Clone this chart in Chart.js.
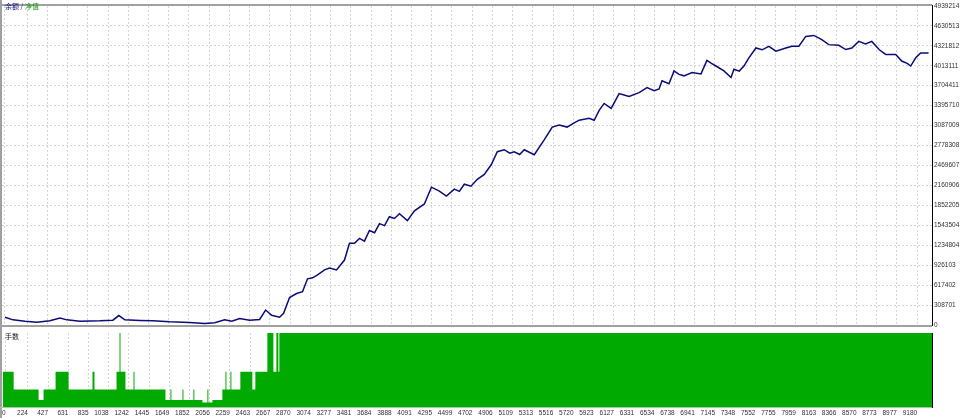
<!DOCTYPE html>
<html>
<head>
<meta charset="utf-8">
<script src="https://cdn.jsdelivr.net/npm/chart.js@4.4.1/dist/chart.umd.min.js"></script>
<style>
  html, body { margin: 0; padding: 0; background: #fff; }
  #wrap { position: relative; width: 960px; height: 418px; overflow: hidden; }
  #top-box { position: absolute; left: 0; top: 0; width: 960px; height: 331px; }
  #bot-box { position: absolute; left: 0; top: 331px; width: 960px; height: 87px; }
</style>
</head>
<body>
<div id="wrap">
  <div id="top-box"><canvas id="balance-chart"></canvas></div>
  <div id="bot-box"><canvas id="lots-chart"></canvas></div>
</div>
<script>
// trade number / balance
const BALANCE_TRADES = [0, 81, 201, 322, 452, 553, 623, 754, 955, 1086, 1146, 1206, 1357, 1488, 1658, 1859, 2010, 2111, 2211, 2282, 2362, 2462, 2563, 2623, 2684, 2764, 2804, 2864, 2935, 2995, 3045, 3096, 3146, 3216, 3266, 3337, 3417, 3467, 3518, 3568, 3618, 3668, 3720, 3769, 3820, 3869, 3920, 3970, 4050, 4121, 4221, 4292, 4372, 4442, 4523, 4573, 4623, 4690, 4754, 4824, 4895, 4955, 5025, 5080, 5126, 5180, 5226, 5327, 5427, 5508, 5578, 5658, 5720, 5779, 5879, 5930, 5980, 6030, 6101, 6181, 6231, 6281, 6382, 6462, 6533, 6583, 6613, 6683, 6734, 6784, 6834, 6915, 7005, 7065, 7110, 7156, 7236, 7307, 7337, 7390, 7437, 7487, 7558, 7620, 7688, 7759, 7859, 7920, 7990, 8060, 8141, 8221, 8291, 8392, 8462, 8523, 8593, 8660, 8724, 8800, 8864, 8965, 9025, 9080, 9116, 9166, 9216, 9296];
const BALANCE_VALUES = [122000, 81000, 61000, 46000, 66000, 111000, 81000, 61000, 66000, 76000, 148000, 81000, 72000, 66000, 50000, 41000, 26000, 35000, 81000, 61000, 102000, 76000, 87000, 233000, 152000, 122000, 183000, 427000, 488000, 518000, 716000, 732000, 777000, 854000, 884000, 854000, 1006000, 1265000, 1265000, 1342000, 1300000, 1463000, 1430000, 1570000, 1540000, 1677000, 1650000, 1723000, 1616000, 1768000, 1875000, 2134000, 2073000, 1997000, 2104000, 2070000, 2180000, 2150000, 2256000, 2332000, 2485000, 2683000, 2714000, 2660000, 2683000, 2640000, 2714000, 2637000, 2866000, 3064000, 3095000, 3064000, 3120000, 3171000, 3201000, 3170000, 3323000, 3430000, 3354000, 3582000, 3560000, 3537000, 3598000, 3674000, 3628000, 3654000, 3781000, 3735000, 3933000, 3880000, 3857000, 3907000, 3887000, 4096000, 4050000, 4009000, 3933000, 3831000, 3959000, 3930000, 4009000, 4136000, 4288000, 4260000, 4314000, 4238000, 4288000, 4314000, 4314000, 4467000, 4482000, 4416000, 4340000, 4329000, 4264000, 4288000, 4390000, 4350000, 4390000, 4260000, 4188000, 4188000, 4086000, 4050000, 4009000, 4136000, 4212000, 4212000];

// lot size steps (value holds from each trade number to the next)
const LOT_TRADES = [-30, 81, 332, 382, 503, 634, 875, 895, 1117, 1147, 1157, 1207, 1288, 1298, 1610, 1660, 1670, 1781, 1791, 1891, 1901, 1982, 2032, 2042, 2083, 2183, 2214, 2224, 2264, 2274, 2364, 2485, 2515, 2636, 2697, 2727, 2747, 2757, 9330];
const LOT_VALUES = [2, 1, 0.4, 1, 2, 1, 2, 1, 2, 4.2, 2, 1, 2, 1, 0.4, 1, 0.4, 1, 0.4, 1, 0.4, 0.25, 1, 0.25, 0.4, 1, 2, 1, 2, 1, 2, 1, 2, 4.2, 2, 4.2, 2, 4.2, 4.2];

const X_TICKS = [0, 224, 427, 631, 835, 1038, 1242, 1445, 1649, 1852, 2056, 2259, 2463, 2667, 2870, 3074, 3277, 3481, 3684, 3888, 4091, 4295, 4499, 4702, 4906, 5109, 5313, 5516, 5720, 5923, 6127, 6331, 6534, 6738, 6941, 7145, 7348, 7552, 7755, 7959, 8163, 8366, 8570, 8773, 8977, 9180];
const Y_TICKS = [0, 308701, 617402, 926103, 1234804, 1543504, 1852205, 2160906, 2469607, 2778308, 3087009, 3395710, 3704411, 4013111, 4321812, 4630513, 4939214];

const X_MIN = -30;
const X_MAX = 9330;
const AXIS_W = 28;
const GRID = "#d4d4d4";
const FRAME = "#a0a0a0";
const SMALL_FONT = { family: "'Liberation Sans', Arial, sans-serif", size: 6.5 };

function xScale(showLabels) {
  return {
    type: "linear",
    min: X_MIN,
    max: X_MAX,
    afterBuildTicks: (scale) => { scale.ticks = X_TICKS.map((v) => ({ value: v })); },
    afterFit: (scale) => { scale.height = showLabels ? 11 : 0; },
    grid: { color: GRID, drawTicks: false },
    border: { display: false, dash: [2, 2] },
    ticks: {
      display: showLabels,
      autoSkip: false,
      maxRotation: 0,
      align: "end",
      padding: 2,
      color: "#303030",
      font: SMALL_FONT,
      callback: (value, index) => String(X_TICKS[index]),
    },
  };
}

const framePlugin = {
  id: "frame",
  afterDraw(chart, args, opts) {
    const { ctx, chartArea: a } = chart;
    ctx.save();
    ctx.strokeStyle = FRAME;
    ctx.lineWidth = 2;
    ctx.beginPath();
    if (opts.top) { ctx.moveTo(0, a.top - 1); ctx.lineTo(a.right, a.top - 1); }
    ctx.moveTo(1, 0);
    ctx.lineTo(1, chart.height);
    if (opts.bottom) { ctx.moveTo(0, a.bottom + 1); ctx.lineTo(a.right, a.bottom + 1); }
    ctx.stroke();
    if (opts.greenBottom) {
      ctx.strokeStyle = "#9ccf9c";
      ctx.lineWidth = 1;
      ctx.beginPath();
      ctx.moveTo(0, a.bottom + 0.5);
      ctx.lineTo(a.right, a.bottom + 0.5);
      ctx.stroke();
    }
    ctx.font = "7px 'Noto Sans CJK SC', sans-serif";
    ctx.textBaseline = "top";
    let x = 5;
    (opts.title || []).forEach(([text, color]) => {
      ctx.fillStyle = color;
      ctx.fillText(text, x, opts.titleY);
      x += ctx.measureText(text).width;
    });
    ctx.restore();
  },
};

new Chart(document.getElementById("balance-chart"), {
  type: "line",
  data: {
    datasets: [{
      data: BALANCE_TRADES.map((t, i) => ({ x: t, y: BALANCE_VALUES[i] })),
      borderColor: "#0b0b7a",
      borderWidth: 1.5,
      pointRadius: 0,
      tension: 0,
    }],
  },
  options: {
    responsive: true,
    maintainAspectRatio: false,
    animation: false,
    layout: { padding: { left: 2, top: 4, right: 0, bottom: 3 } },
    plugins: {
      legend: { display: false },
      tooltip: { enabled: false },
      frame: { top: true, bottom: true, titleY: 3, title: [["余额", "#0b0b7a"], [" / ", "#0b0b7a"], ["净值", "#1a9a1a"]] },
    },
    scales: {
      x: xScale(false),
      y: {
        position: "right",
        min: 0,
        max: 4939214,
        afterBuildTicks: (scale) => { scale.ticks = Y_TICKS.map((v) => ({ value: v })); },
        afterFit: (scale) => { scale.width = AXIS_W; },
        grid: { color: GRID, drawTicks: false },
        border: { color: "#000", width: 1, dash: [2, 2] },
        ticks: {
          padding: 2,
          color: "#303030",
          font: SMALL_FONT,
          callback: (value) => String(value),
        },
      },
    },
  },
  plugins: [framePlugin],
});

new Chart(document.getElementById("lots-chart"), {
  type: "line",
  data: {
    datasets: [{
      data: LOT_TRADES.map((t, i) => ({ x: t, y: LOT_VALUES[i] })),
      stepped: true,
      fill: "origin",
      backgroundColor: "#00aa00",
      borderColor: "#00aa00",
      borderWidth: 0,
      pointRadius: 0,
    }],
  },
  options: {
    responsive: true,
    maintainAspectRatio: false,
    animation: false,
    layout: { padding: { left: 2, top: 2, right: 0, bottom: 0 } },
    plugins: {
      legend: { display: false },
      tooltip: { enabled: false },
      frame: { greenBottom: true, titleY: 2, title: [["手数", "#202020"]] },
    },
    scales: {
      x: xScale(true),
      y: {
        position: "right",
        min: 0,
        max: 4.2,
        afterFit: (scale) => { scale.width = AXIS_W; },
        grid: { display: false },
        border: { color: "#000", width: 1 },
        ticks: { display: false },
      },
    },
  },
  plugins: [framePlugin],
});
</script>
</body>
</html>
